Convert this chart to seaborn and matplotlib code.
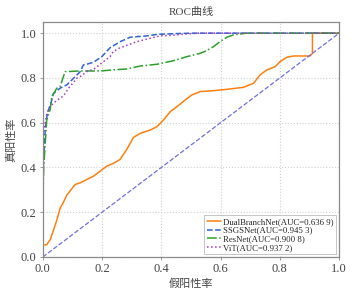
import pandas as pd
import matplotlib
matplotlib.use("Agg")
import matplotlib.pyplot as plt
import seaborn as sns

# ROC points
dual_fpr = [0, 0, 0.013, 0.025, 0.036, 0.047, 0.058, 0.07, 0.081, 0.092, 0.109, 0.126, 0.148, 0.171,
            0.193, 0.216, 0.238, 0.261, 0.283, 0.306, 0.328, 0.362, 0.385, 0.407, 0.43, 0.452, 0.48,
            0.503, 0.531, 0.576, 0.621, 0.677, 0.711, 0.733, 0.756, 0.784, 0.801, 0.823, 0.846,
            0.902, 0.91, 0.91, 1.0]
dual_tpr = [0, 0.052, 0.055, 0.078, 0.12, 0.164, 0.216, 0.246, 0.276, 0.295, 0.324, 0.331, 0.346, 0.361,
            0.383, 0.406, 0.418, 0.436, 0.48, 0.534, 0.552, 0.567, 0.582, 0.612, 0.649, 0.671, 0.701,
            0.724, 0.739, 0.743, 0.749, 0.758, 0.776, 0.813, 0.836, 0.85, 0.873, 0.892, 0.898,
            0.898, 0.91, 1.0, 1.0]

ssgs_fpr = [0, 0, 0.003, 0.008, 0.015, 0.03, 0.036, 0.058, 0.081, 0.092, 0.126, 0.137, 0.148, 0.171,
            0.182, 0.199, 0.227, 0.261, 0.295, 0.351, 0.39, 0.45, 0.5, 1.0]
ssgs_tpr = [0, 0.33, 0.45, 0.57, 0.64, 0.70, 0.731, 0.754, 0.769, 0.783, 0.828, 0.858, 0.861, 0.870,
            0.88, 0.895, 0.935, 0.962, 0.982, 0.988, 0.995, 0.998, 1.0, 1.0]

resnet_fpr = [0, 0, 0.003, 0.011, 0.013, 0.025, 0.03, 0.047, 0.058, 0.075, 0.126, 0.193, 0.238, 0.283,
              0.328, 0.385, 0.441, 0.486, 0.531, 0.553, 0.576, 0.598, 0.621, 0.643, 0.688, 1.0]
resnet_tpr = [0, 0.25, 0.40, 0.57, 0.612, 0.66, 0.716, 0.754, 0.76, 0.828, 0.831, 0.831, 0.836, 0.84,
              0.853, 0.861, 0.877, 0.895, 0.91, 0.922, 0.94, 0.962, 0.982, 0.992, 1.0, 1.0]

vit_fpr = [0, 0, 0.002, 0.013, 0.024, 0.047, 0.07, 0.087, 0.115, 0.126, 0.148, 0.171, 0.205, 0.227,
           0.238, 0.261, 0.272, 0.317, 0.362, 0.396, 0.43, 0.5, 0.53, 1.0]
vit_tpr = [0, 0.30, 0.55, 0.64, 0.672, 0.70, 0.72, 0.754, 0.799, 0.806, 0.828, 0.838, 0.873, 0.895,
           0.918, 0.935, 0.94, 0.962, 0.977, 0.988, 0.99, 0.998, 1.0, 1.0]

labels = ["DualBranchNet(AUC=0.636 9)", "SSGSNet(AUC=0.945 3)",
          "ResNet(AUC=0.900 8)", "ViT(AUC=0.937 2)"]
colors = ["#ff7f0e", "#2f62d6", "#2ca02c", "#a23cc4"]
styles = ["-", "--", "-.", ":"]

sns.set_style("whitegrid", {"grid.linestyle": ":", "grid.color": "#cfcfcf",
                            "axes.edgecolor": "#8a8a8a", "xtick.bottom": True, "ytick.left": True})
plt.rcParams["font.family"] = ["Liberation Serif", "Noto Sans CJK SC"]
plt.rcParams["axes.unicode_minus"] = False

fig, ax = plt.subplots(figsize=(3.6, 2.93), dpi=100)
fig.subplots_adjust(left=0.119, right=0.942, top=0.925, bottom=0.123)

curves = [(dual_fpr, dual_tpr), (ssgs_fpr, ssgs_tpr), (resnet_fpr, resnet_tpr), (vit_fpr, vit_tpr)]
for (fpr, tpr), lab, col, ls in zip(curves, labels, colors, styles):
    df = pd.DataFrame({"fpr": fpr, "tpr": tpr})
    sns.lineplot(data=df, x="fpr", y="tpr", sort=False, estimator=None, ax=ax,
                 color=col, linestyle=ls, linewidth=1.1, label=lab)

ax.plot([0, 1], [0, 1], color="#6f6fe0", linestyle="--", linewidth=0.9)

ax.set_xlim(0, 1.0)
ax.set_ylim(0, 1.05)
ax.set_xticks([0, 0.2, 0.4, 0.6, 0.8, 1.0])
ax.set_yticks([0, 0.2, 0.4, 0.6, 0.8, 1.0])
ax.tick_params(labelsize=9, length=2.5, width=0.6, color="#8a8a8a", pad=2, labelcolor="#444444")
for s in ax.spines.values():
    s.set_linewidth(0.9)

ax.set_title("ROC曲线", fontsize=8, color="#444444", pad=5)
ax.set_xlabel("假阳性率", fontsize=8, color="#444444", labelpad=2)
ax.set_ylabel("真阳性率", fontsize=8, color="#444444", labelpad=3)

leg = ax.legend(loc="lower right", fontsize=6.3, frameon=True, fancybox=False,
                handlelength=1.6, handletextpad=0.3, borderpad=0.3, labelspacing=0.05,
                borderaxespad=0.3)
leg.get_frame().set_edgecolor("#aaaaaa")
leg.get_frame().set_linewidth(0.6)

fig.savefig("out.png", dpi=100)
